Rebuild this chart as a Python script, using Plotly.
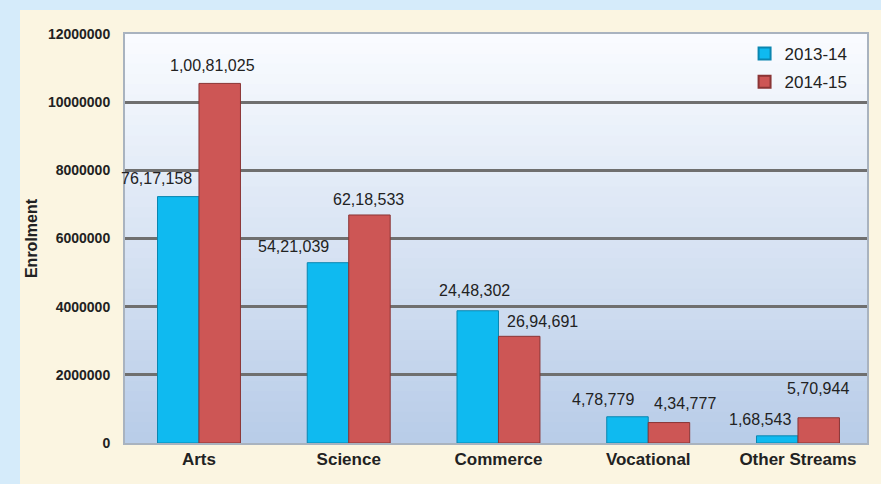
import plotly.graph_objects as go

# ---------------- data ----------------
categories = ["Arts", "Science", "Commerce", "Vocational", "Other Streams"]
series_names = ["2013-14", "2014-15"]
# bar heights as drawn in the picture (read against the gridlines)
values_2013 = [7230000, 5290000, 3880000, 770000, 210000]
values_2014 = [10550000, 6690000, 3130000, 600000, 740000]
# data-label texts shown on the picture
labels_2013 = ["76,17,158", "54,21,039", "24,48,302", "4,78,779", "1,68,543"]
labels_2014 = ["1,00,81,025", "62,18,533", "26,94,691", "4,34,777", "5,70,944"]
y_tick_values = [0, 2000000, 4000000, 6000000, 8000000, 10000000, 12000000]
y_tick_labels = ["0", "2000000", "4000000", "6000000", "8000000", "10000000", "12000000"]
y_title = "Enrolment"

# ---------------- styling ----------------
BLUE = "#0fbaf0"
RED = "#cd5655"
FONT = "Liberation Sans, Arial, sans-serif"
TXT = "#222222"
BARGAP = 0.446
# label offsets in pixels (x shift from bar centre, height of label centre above bar top)
dx_2013 = [-22, -34, -3, -24, -17]
dy_2013 = [12, 10, 14, 11, 10]
dx_2014 = [-7, -1, 23, 16, -1]
dy_2014 = [12, 9, 9, 13, 23]

W, H = 881, 484
ML, MR, MT, MB = 125, 14, 34, 41
PW, PH = W - ML - MR, H - MT - MB

fig = go.Figure()
fig.add_trace(go.Bar(x=categories, y=values_2013, name=series_names[0], legendgroup="a",
                     marker=dict(color=BLUE, line=dict(color="#0b86b0", width=1))))
fig.add_trace(go.Bar(x=categories, y=values_2014, name=series_names[1], legendgroup="b",
                     marker=dict(color=RED, line=dict(color="#8a3535", width=1))))

half = (1 - BARGAP) / 4.0
annotations = []
for i in range(len(categories)):
    for vals, labs, dxs, dys, off in ((values_2013, labels_2013, dx_2013, dy_2013, -half),
                                       (values_2014, labels_2014, dx_2014, dy_2014, half)):
        annotations.append(dict(x=i + off, y=vals[i], xref="x", yref="y", text=labs[i],
                                showarrow=False, xanchor="center", yanchor="middle",
                                xshift=dxs[i], yshift=dys[i] + 6,
                                font=dict(family=FONT, size=16, color=TXT)))

shapes = []
def px_to_paper_x(px):
    return (px - ML) / PW
def px_to_paper_y(py):
    return (H - MB - py) / PH

# cream panel
shapes.append(dict(type="rect", xref="paper", yref="paper", layer="below",
                   x0=px_to_paper_x(20), x1=px_to_paper_x(W + 5),
                   y0=px_to_paper_y(H + 5), y1=px_to_paper_y(10),
                   fillcolor="#fbf5e1", line=dict(width=0)))
# plot-area vertical gradient
top = (0xfa, 0xfc, 0xff)
bot = (0xb8, 0xcc, 0xe8)
N = 40
for k in range(N):
    t = (k + 0.5) / N
    c = tuple(round(top[j] + (bot[j] - top[j]) * t) for j in range(3))
    shapes.append(dict(type="rect", xref="paper", yref="paper", layer="below",
                       x0=0, x1=1, y0=1 - (k + 1) / N, y1=1 - k / N + 0.002,
                       fillcolor="rgb(%d,%d,%d)" % c, line=dict(width=0)))

fig.update_layout(
    width=W, height=H,
    margin=dict(l=ML, r=MR, t=MT, b=MB, autoexpand=False),
    paper_bgcolor="#d5ebfa",
    plot_bgcolor="rgba(0,0,0,0)",
    barmode="group", bargap=BARGAP, bargroupgap=0,
    font=dict(family=FONT, color=TXT),
    showlegend=True,
    legend=dict(x=0.835, y=0.995, xanchor="left", yanchor="top",
                bgcolor="rgba(0,0,0,0)", font=dict(family=FONT, size=17, color=TXT),
                itemsizing="constant", tracegroupgap=3),
    annotations=annotations,
    shapes=shapes,
)
fig.update_xaxes(range=[-0.494, 4.461], showgrid=False, showline=True, mirror=True,
                 linecolor="#a9b3bf", linewidth=2, ticks="",
                 tickfont=dict(family=FONT, size=17, color=TXT, weight="bold"))
fig.update_yaxes(range=[0, 12000000], tickvals=y_tick_values, ticktext=y_tick_labels,
                 showgrid=True, gridcolor="#6f6f6f", gridwidth=3,
                 zeroline=False, showline=True, mirror=True,
                 linecolor="#a9b3bf", linewidth=2, ticks="",
                 ticklabelstandoff=10,
                 tickfont=dict(family=FONT, size=14, color=TXT, weight="bold"),
                 title=dict(text=y_title, standoff=6,
                            font=dict(family=FONT, size=16, color=TXT, weight="bold")))

fig.write_html("out.html", config={"displayModeBar": False},
               post_script="document.body.style.margin='0';document.body.style.overflow='hidden';")
